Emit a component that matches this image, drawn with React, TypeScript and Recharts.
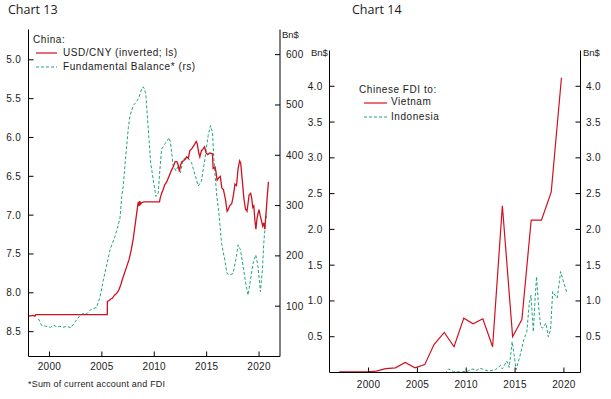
import React from 'react';
import { LineChart, Line, XAxis, YAxis } from 'recharts';

// ---------- Chart 13 data ----------
const usdcnyDates = [
  1998.0, 1998.1, 1998.4, 1998.62, 1998.7, 1999.5, 2000.5, 2001.5, 2002.5, 2003.5, 2004.5, 2005.52,
  2005.53, 2005.7, 2005.85, 2006.0, 2006.2, 2006.4, 2006.6, 2006.8, 2007.0, 2007.2, 2007.4, 2007.6,
  2007.8, 2008.0, 2008.15, 2008.3, 2008.45, 2008.5, 2008.55, 2008.62, 2008.7, 2008.8, 2009.0, 2009.5,
  2010.0, 2010.5, 2010.55, 2010.7, 2010.85, 2011.0, 2011.2, 2011.35, 2011.5, 2011.65, 2011.8, 2012.0,
  2012.15, 2012.3, 2012.4, 2012.5, 2012.65, 2012.8, 2012.95, 2013.1, 2013.25, 2013.4, 2013.6, 2013.8,
  2014.0, 2014.1, 2014.25, 2014.35, 2014.5, 2014.65, 2014.8, 2014.95, 2015.1, 2015.3, 2015.55, 2015.62,
  2015.8, 2015.9, 2016.0, 2016.15, 2016.3, 2016.45, 2016.6, 2016.8, 2016.95, 2017.05, 2017.2, 2017.4,
  2017.55, 2017.7, 2017.85, 2018.0, 2018.15, 2018.25, 2018.4, 2018.55, 2018.7, 2018.85, 2018.95, 2019.05,
  2019.2, 2019.3, 2019.4, 2019.5, 2019.6, 2019.7, 2019.8, 2019.9, 2020.0, 2020.1, 2020.25, 2020.35,
  2020.45, 2020.55, 2020.62, 2020.7, 2020.8, 2020.9,
];
const usdcnyValues = [
  8.29, 8.30, 8.29, 8.30, 8.28, 8.28, 8.28, 8.28, 8.28, 8.28, 8.28, 8.28,
  8.11, 8.10, 8.08, 8.07, 8.03, 8.01, 7.97, 7.90, 7.81, 7.73, 7.65, 7.57,
  7.45, 7.30, 7.15, 7.00, 6.85, 6.83, 6.88, 6.82, 6.86, 6.84, 6.83, 6.83,
  6.83, 6.83, 6.79, 6.72, 6.67, 6.61, 6.57, 6.52, 6.47, 6.42, 6.38, 6.31,
  6.31, 6.36, 6.44, 6.36, 6.31, 6.30, 6.28, 6.25, 6.27, 6.17, 6.14, 6.10,
  6.05, 6.08, 6.20, 6.25, 6.17, 6.15, 6.12, 6.20, 6.22, 6.20, 6.21, 6.40,
  6.38, 6.45, 6.55, 6.52, 6.50, 6.65, 6.67, 6.80, 6.95, 6.93, 6.88, 6.85,
  6.75, 6.60, 6.62, 6.40, 6.30, 6.33, 6.55, 6.78, 6.92, 6.95, 6.85, 6.74,
  6.72, 6.78, 6.90, 6.88, 7.06, 7.18, 7.05, 6.98, 6.93, 7.00, 7.08, 7.14,
  7.10, 7.18, 7.05, 6.92, 6.73, 6.57,
];
const balanceDates = [
  1998.95, 1999.25, 1999.75, 2000.1, 2000.4, 2000.7, 2001.0, 2001.3, 2001.66, 2002.04, 2002.45, 2002.92,
  2003.3, 2003.56, 2004.04, 2004.5, 2004.83, 2005.14, 2005.5, 2005.78, 2006.26, 2006.57, 2006.73, 2006.9,
  2007.05, 2007.2, 2007.37, 2007.53, 2007.69, 2008.0, 2008.25, 2008.48, 2008.65, 2008.8, 2008.95, 2009.1,
  2009.2, 2009.43, 2009.66, 2009.9, 2010.16, 2010.28, 2010.38, 2010.54, 2010.7, 2011.0, 2011.2, 2011.43,
  2011.55, 2011.66, 2011.8, 2012.07, 2012.29, 2012.5, 2012.76, 2013.0, 2013.24, 2013.56, 2013.88, 2014.2,
  2014.5, 2014.83, 2015.14, 2015.37, 2015.56, 2015.69, 2015.94, 2016.2, 2016.42, 2016.73, 2016.95, 2017.21,
  2017.52, 2017.84, 2018.0, 2018.23, 2018.48, 2018.73, 2018.95, 2019.18, 2019.43, 2019.69, 2019.9, 2020.13,
  2020.32, 2020.45, 2020.64, 2020.77,
];
const balanceValues = [
  75, 62, 60, 58, 62, 59, 60, 58, 60, 57, 69, 82,
  86, 85, 95, 97, 119, 152, 185, 212, 239, 262, 275, 318,
  340, 380, 419, 455, 479, 499, 505, 512, 522, 532, 536, 530,
  519, 452, 385, 352, 318, 322, 325, 372, 412, 422, 428, 435,
  425, 405, 379, 369, 379, 365, 392, 394, 395, 385, 362, 339,
  349, 392, 439, 459, 445, 392, 325, 279, 225, 192, 165, 162,
  165, 199, 222, 212, 179, 145, 122, 152, 185, 202, 179, 129,
  172, 225, 272, 285,
];

// ---------- Chart 14 data ----------
const vietnamDates = [
  1997.0, 1997.8, 1998.8, 1999.8, 2000.8, 2001.75, 2002.75, 2003.75, 2004.75, 2005.75, 2006.7, 2007.75,
  2008.75, 2009.75, 2010.7, 2011.7, 2012.7, 2013.7, 2014.75, 2015.7, 2016.65, 2017.7, 2018.7, 2019.75,
];
const vietnamValues = [
  0.01, 0.01, 0.01, 0.01, 0.02, 0.055, 0.065, 0.14, 0.065, 0.11, 0.39, 0.56,
  0.36, 0.76, 0.68, 0.75, 0.36, 2.33, 0.50, 0.74, 2.13, 2.13, 2.52, 4.12,
];
const indonesiaDates = [
  2005.2, 2006.0, 2007.0, 2007.9, 2008.2, 2008.7, 2009.6, 2010.2, 2010.6, 2011.1, 2011.4, 2011.8,
  2012.3, 2013.0, 2013.5, 2013.7, 2014.15, 2014.4, 2014.7, 2014.9, 2015.1, 2015.5, 2015.9, 2016.2,
  2016.46, 2016.63, 2016.87, 2017.04, 2017.2, 2017.38, 2017.62, 2017.83, 2018.16, 2018.4, 2018.64, 2018.85,
  2019.08, 2019.32, 2019.66, 2020.0, 2020.34,
];
const indonesiaValues = [
  0.0, 0.0, 0.0, 0.0, 0.05, 0.01, 0.01, 0.02, 0.05, 0.03, 0.06, 0.04,
  0.02, 0.04, 0.10, 0.05, 0.16, 0.07, 0.43, 0.25, 0.04, 0.23, 0.46, 0.57,
  0.97, 1.08, 0.57, 1.01, 1.34, 0.97, 0.64, 0.62, 0.69, 0.50, 0.60, 1.13,
  1.08, 1.04, 1.41, 1.25, 1.10,
];

const yearTicks = [2000, 2005, 2010, 2015, 2020];
const cnyTicks = [5.0, 5.5, 6.0, 6.5, 7.0, 7.5, 8.0, 8.5];
const balanceTicks = [100, 200, 300, 400, 500, 600];
const fdiTicks = [0.5, 1.0, 1.5, 2.0, 2.5, 3.0, 3.5, 4.0];

const zip = (ts: number[], vs: number[]) => ts.map((t, i) => ({ t, v: vs[i] }));
const usdcnyData = zip(usdcnyDates, usdcnyValues);
const balanceData = zip(balanceDates, balanceValues);
const vietnamData = zip(vietnamDates, vietnamValues);
const indonesiaData = zip(indonesiaDates, indonesiaValues);

const RED = '#d0101e';
const GREEN = '#1fa67a';
const FONT = '"Liberation Sans", Arial, sans-serif';
const TXT = '#1a1a1a';

type Side = 'left' | 'right' | 'bottom';
const makeTick = (side: Side, fmt: (v: number) => string, gap: number) => (props: any) => {
  const { x, y, payload } = props;
  const label = fmt(payload.value);
  const common = { fontFamily: FONT, fontSize: 10, fill: TXT, letterSpacing: 0.3 } as any;
  if (side === 'left') {
    return (
      <g>
        <line x1={x} y1={y} x2={x + 5} y2={y} stroke="#000" />
        <text x={x - gap} y={y} dy={3.5} textAnchor="end" {...common}>{label}</text>
      </g>
    );
  }
  if (side === 'right') {
    return (
      <g>
        <line x1={x} y1={y} x2={x - 5} y2={y} stroke="#000" />
        <text x={x + gap} y={y} dy={3.5} textAnchor="start" {...common}>{label}</text>
      </g>
    );
  }
  return (
    <g>
      <line x1={x} y1={y} x2={x} y2={y - 5} stroke="#000" />
      <text x={x} y={y + gap} textAnchor="middle" {...common}>{label}</text>
    </g>
  );
};

const Txt = ({ x, y, size = 10, font = FONT, spacing = 0.55, children }: any) => (
  <div
    style={{
      position: 'absolute', left: x, top: y, transform: 'translateY(-50%)', fontFamily: font,
      fontSize: size, lineHeight: 1, whiteSpace: 'nowrap', color: TXT, letterSpacing: spacing,
    }}
  >
    {children}
  </div>
);

const Swatch = ({ x, y, w, color, dashed }: any) => (
  <svg style={{ position: 'absolute', left: x, top: y - 2 }} width={w} height={4}>
    <line x1={0} y1={2} x2={w} y2={2} stroke={color} strokeWidth={1.2} strokeDasharray={dashed ? '3 2' : undefined} />
  </svg>
);

export default function App() {
  return (
    <div style={{ position: 'absolute', left: 0, top: 0, width: 611, height: 399, background: '#fff', overflow: 'hidden' }}>
      {/* Chart 13 */}
      <div style={{ position: 'absolute', left: 0, top: 0 }}>
        <LineChart width={305} height={399} margin={{ top: 29.5, right: 0, bottom: 0, left: 0 }}>
          <XAxis
            dataKey="t" type="number" domain={[1998, 2022]} allowDataOverflow ticks={yearTicks} interval={0}
            height={42.5} tickSize={0} tickMargin={0} tickLine={false} axisLine={{ stroke: '#000' }}
            tick={makeTick('bottom', (v) => String(v), 13.5)}
          />
          <XAxis
            xAxisId="top" orientation="top" dataKey="t" type="number" domain={[1998, 2022]} height={0}
            tick={false} tickLine={false} axisLine={{ stroke: '#000' }}
          />
          <YAxis
            yAxisId="left" reversed type="number" domain={[4.61, 8.82]} allowDataOverflow ticks={cnyTicks} interval={0}
            width={28.5} tickSize={0} tickMargin={0} tickLine={false} axisLine={{ stroke: '#000' }}
            tick={makeTick('left', (v) => v.toFixed(1), 7.5)}
          />
          <YAxis
            yAxisId="right" orientation="right" type="number" domain={[0, 650]} allowDataOverflow ticks={balanceTicks}
            interval={0} width={25} tickSize={0} tickMargin={0} tickLine={false} axisLine={{ stroke: '#000' }}
            tick={makeTick('right', (v) => String(v), 6)}
          />
          <Line yAxisId="right" data={balanceData} dataKey="v" type="linear" stroke={GREEN} strokeWidth={1}
            strokeDasharray="3 2" dot={false} isAnimationActive={false} />
          <Line yAxisId="left" data={usdcnyData} dataKey="v" type="linear" stroke={RED} strokeWidth={1.3}
            dot={false} isAnimationActive={false} />
        </LineChart>
      </div>

      {/* Chart 14 */}
      <div style={{ position: 'absolute', left: 305, top: 0 }}>
        <LineChart width={306} height={399} margin={{ top: 50.5, right: 0, bottom: 0, left: 0 }}>
          <XAxis
            dataKey="t" type="number" domain={[1996, 2021.7]} allowDataOverflow ticks={yearTicks} interval={0}
            height={26.5} tickSize={0} tickMargin={0} tickLine={false} axisLine={{ stroke: '#000' }}
            tick={makeTick('bottom', (v) => String(v), 15)}
          />
          <XAxis
            xAxisId="top" orientation="top" dataKey="t" type="number" domain={[1996, 2021.7]} height={0}
            tick={false} tickLine={false} axisLine={{ stroke: '#000' }}
          />
          <YAxis
            yAxisId="left" type="number" domain={[0, 4.5]} allowDataOverflow ticks={fdiTicks} interval={0}
            width={24.5} tickSize={0} tickMargin={0} tickLine={false} axisLine={{ stroke: '#000' }}
            tick={makeTick('left', (v) => v.toFixed(1), 7)}
          />
          <YAxis
            yAxisId="right" orientation="right" type="number" domain={[0, 4.5]} allowDataOverflow ticks={fdiTicks}
            interval={0} width={30.5} tickSize={0} tickMargin={0} tickLine={false} axisLine={{ stroke: '#000' }}
            tick={makeTick('right', (v) => v.toFixed(1), 5.5)}
          />
          <Line yAxisId="left" data={indonesiaData} dataKey="v" type="linear" stroke={GREEN} strokeWidth={1}
            strokeDasharray="3 2" dot={false} isAnimationActive={false} />
          <Line yAxisId="left" data={vietnamData} dataKey="v" type="linear" stroke={RED} strokeWidth={1.2}
            dot={false} isAnimationActive={false} />
        </LineChart>
      </div>

      {/* Titles, units, legends, footnote */}
      <Txt x={8} y={10} size={12.5} font="'Open Sans', Lato, sans-serif" spacing={0}>Chart 13</Txt>
      <Txt x={352} y={10} size={12.5} font="'Open Sans', Lato, sans-serif" spacing={0}>Chart 14</Txt>

      <Txt x={282} y={34.5} size={9.5} spacing={0}>Bn$</Txt>
      <Txt x={311} y={53} size={9.5} spacing={0}>Bn$</Txt>
      <Txt x={583} y={53} size={9.5} spacing={0}>Bn$</Txt>

      <Txt x={33} y={39.5}>China:</Txt>
      <Swatch x={36} y={52.5} w={21} color={RED} />
      <Txt x={63} y={52.5}>USD/CNY (inverted; ls)</Txt>
      <Swatch x={36} y={66.5} w={21} color={GREEN} dashed />
      <Txt x={63} y={66.5}>Fundamental Balance* (rs)</Txt>

      <Txt x={359} y={89.5}>Chinese FDI to:</Txt>
      <Swatch x={364} y={102.5} w={23} color={RED} />
      <Txt x={391} y={102}>Vietnam</Txt>
      <Swatch x={364} y={117} w={23} color={GREEN} dashed />
      <Txt x={391} y={117}>Indonesia</Txt>

      <Txt x={28} y={384} size={9} spacing={0.2}>*Sum of current account and FDI</Txt>
    </div>
  );
}
